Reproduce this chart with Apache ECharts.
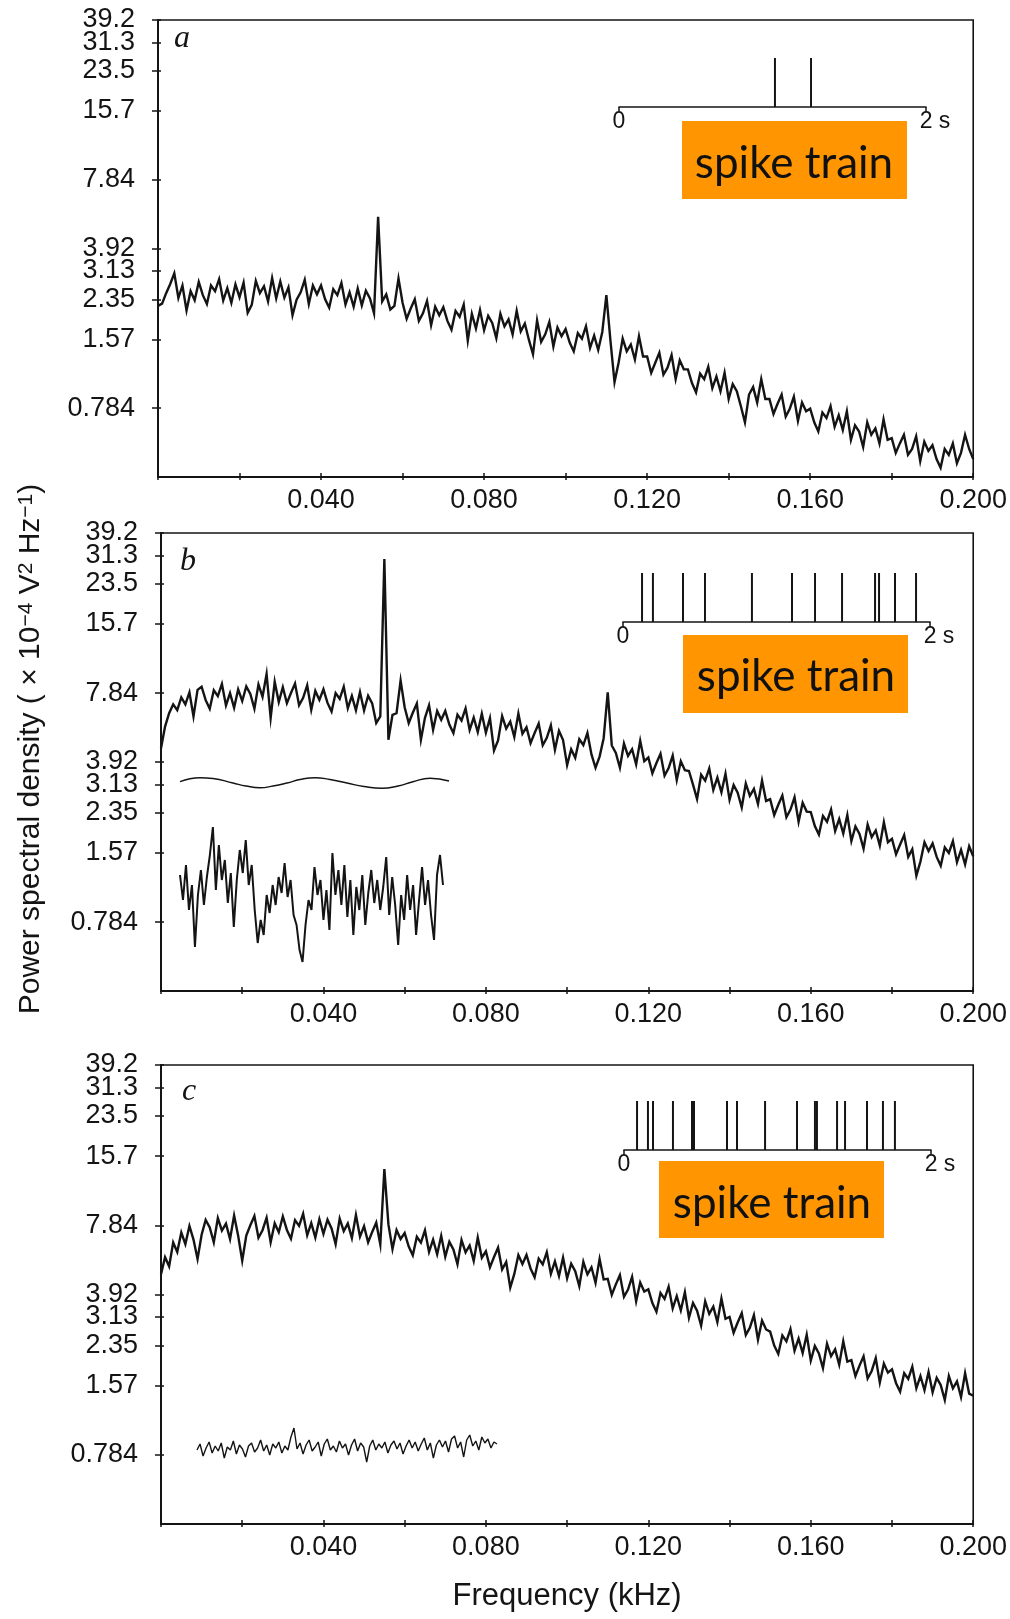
<!DOCTYPE html>
<html><head><meta charset="utf-8">
<script src="https://cdn.jsdelivr.net/npm/echarts@6/dist/echarts.min.js"></script>
<style>html,body{margin:0;padding:0;background:#fff}#chart{width:1010px;height:1619px}</style>
</head><body><div id="chart"></div>
<script>
// ---------- DATA ----------
const FREQ_STEP = 0.001; // kHz between spectral samples
const yTickLabels = ['39.2','31.3','23.5','15.7','7.84','3.92','3.13','2.35','1.57','0.784'];
const xTickLabels = ['0.040','0.080','0.120','0.160','0.200'];
const Y_MIN = 0.392, Y_MAX = 39.2;

const psdA = [
2.2,2.25,2.5,2.74,3.05,2.38,2.7,2.1,2.55,2.33,
2.8,2.45,2.24,2.7,2.55,2.88,2.32,2.63,2.27,2.73,
2.4,2.78,2.05,2.22,2.83,2.5,2.68,2.3,2.91,2.37,
2.81,2.39,2.65,2.0,2.34,2.52,2.86,2.24,2.7,2.47,
2.7,2.35,2.16,2.6,2.45,2.77,2.23,2.52,2.18,2.62,
2.21,2.56,2.37,2.04,5.4,2.3,2.47,2.12,2.2,2.9,
2.27,1.93,2.14,2.35,1.89,2.04,2.31,1.81,2.18,2.0,
2.17,1.89,1.73,2.09,1.97,2.23,1.55,2.03,1.75,2.11,
1.72,1.99,1.85,1.59,2.03,1.79,1.92,1.65,2.09,1.7,
1.84,1.56,1.35,1.9,1.53,1.65,1.87,1.46,1.77,1.62,
1.74,1.52,1.39,1.67,1.58,1.79,1.44,1.63,1.41,1.69,
2.45,1.55,1.02,1.24,1.58,1.39,1.49,1.28,1.62,1.32,
1.32,1.12,1.24,1.37,1.1,1.18,1.34,1.05,1.27,1.16,
1.16,1.01,0.92,1.11,1.05,1.19,0.96,1.08,0.93,1.12,
0.86,1.0,0.93,0.8,0.68,0.9,0.97,0.83,1.05,0.86,
0.86,0.74,0.82,0.9,0.72,0.78,0.88,0.69,0.83,0.76,
0.78,0.68,0.62,0.75,0.71,0.8,0.65,0.73,0.63,0.76,
0.57,0.66,0.62,0.53,0.68,0.6,0.64,0.55,0.7,0.57,
0.58,0.5,0.55,0.6,0.49,0.52,0.59,0.46,0.56,0.51,
0.54,0.47,0.43,0.52,0.49,0.55,0.45,0.5,0.6,0.52,
0.47];

const psdB = [
4.5,5.6,6.4,7.0,6.6,7.5,7.0,7.9,6.2,8.1,
8.36,7.3,6.69,8.06,7.6,8.59,6.92,7.83,6.76,8.13,
7.24,8.39,7.78,6.7,8.55,7.55,9.5,6.1,8.78,7.16,
8.32,7.08,7.85,8.62,6.93,7.47,8.47,6.62,8.01,7.32,
8.14,7.1,6.51,7.84,7.4,8.36,6.73,7.62,6.59,7.92,
6.58,7.63,7.07,5.8,6.2,30.2,4.9,6.3,6.4,8.9,
6.8,5.8,6.43,7.06,4.9,6.11,6.93,5.42,6.55,5.99,
6.55,5.71,5.24,6.31,5.95,6.72,5.41,6.13,5.3,6.37,
5.26,6.1,4.4,4.87,6.22,5.49,5.88,5.04,6.38,5.21,
5.56,4.74,5.25,5.77,4.64,5.0,5.67,4.43,5.36,4.89,
3.8,4.46,4.09,4.93,4.65,5.25,4.23,3.7,4.14,4.98,
7.9,4.63,4.29,3.7,4.72,4.17,4.46,3.83,4.85,3.95,
4.1,3.5,3.88,4.26,3.42,3.69,4.18,3.27,3.95,3.61,
3.58,3.12,2.7,3.45,3.25,3.67,2.96,3.35,2.89,3.48,
2.68,3.11,2.88,2.48,3.16,2.79,2.99,2.57,3.25,2.65,
2.7,2.3,2.55,2.8,2.25,2.43,2.75,2.15,2.6,2.38,
2.37,2.06,1.89,2.28,2.15,2.43,1.96,2.21,1.91,2.3,
1.77,2.05,1.9,1.64,2.09,1.84,1.97,1.69,2.14,1.75,
1.81,1.55,1.71,1.88,1.51,1.63,1.25,1.44,1.75,1.6,
1.73,1.51,1.38,1.66,1.57,1.77,1.43,1.62,1.4,1.68,
1.52];

const psdC = [
4.8,5.7,5.2,6.6,6.0,7.3,6.5,7.8,6.8,5.6,
7.14,8.28,7.68,6.61,8.44,7.45,7.98,6.84,8.66,7.07,
5.5,7.08,7.85,8.62,6.93,7.47,8.47,6.62,8.01,7.32,
8.58,7.49,6.86,8.27,7.8,8.81,7.1,8.03,6.94,8.35,
7.2,8.3,7.6,6.5,8.4,7.4,8.0,6.9,8.7,7.0,
7.78,6.62,7.34,8.06,6.48,13.8,7.92,6.19,7.49,6.84,
7.26,6.34,5.81,7.0,6.6,7.46,6.01,6.8,5.87,7.06,
5.73,6.65,6.16,5.31,6.77,5.98,6.41,5.49,6.95,5.67,
6.05,5.15,5.71,6.27,5.04,5.43,4.2,4.82,5.82,5.32,
5.83,5.09,4.66,5.62,5.3,5.99,4.82,5.46,4.72,5.67,
4.61,5.34,4.95,4.26,5.44,4.8,5.15,4.41,5.59,4.56,
4.59,3.91,4.34,4.76,3.83,4.12,4.68,3.66,4.42,4.04,
4.13,3.6,3.3,3.98,3.75,4.24,3.41,3.86,3.34,4.01,
3.1,3.6,3.33,2.87,3.66,3.23,3.47,2.97,3.76,3.07,
3.13,2.67,2.96,3.25,2.61,2.81,3.19,2.49,3.02,2.76,
2.7,2.35,2.16,2.6,2.45,2.77,2.23,2.52,2.18,2.62,
2.02,2.34,2.17,1.87,2.39,2.11,2.26,1.94,2.45,2.0,
2.03,1.73,1.92,2.11,1.69,1.82,2.07,1.62,1.96,1.79,
1.85,1.61,1.48,1.78,1.68,1.9,1.53,1.73,1.5,1.8,
1.47,1.7,1.58,1.36,1.73,1.53,1.64,1.4,1.78,1.45,
1.42];

// spike times (s) in the 2 s inset trains
const spikesA = [1.016, 1.251];
const spikesB = [0.124,0.195,0.391,0.534,0.840,1.101,1.251,1.427,1.642,1.668,1.772,1.909];
const spikesC = [0.085,0.156,0.189,0.319,0.443,0.456,0.671,0.736,0.919,1.127,1.244,1.257,1.388,1.440,1.583,1.687,1.765];

// inset in panel b: smooth (sinusoidal) trace
const waveBx = [0,20,33,53,66,80,93,107,120,135,150,167,184,202,218,233,250,269];
const waveBy = [1.3,5.3,4.5,0,-3,-4.7,-3,0,3.5,5.3,3.5,0,-3.5,-5.3,-3,1.3,4.7,2];
// inset in panel b: noisy trace
const noiseB = [90,65,100,55,80,18,70,95,60,88,110,138,75,120,85,105,62,92,38,85,
115,92,125,80,100,55,22,45,30,70,52,80,60,88,72,102,68,85,50,40,
15,3,40,65,55,98,70,85,45,75,35,112,70,95,60,100,48,85,30,78,
55,90,40,72,95,62,85,55,78,108,50,88,60,20,70,45,90,55,80,30,
65,98,60,85,50,25,90,110,80];
// inset in panel c: noisy trace
const noiseC = [20,26,14,22,28,17,24,19,27,12,23,20,29,16,25,21,13,24,27,18,
22,30,19,25,15,26,22,28,17,24,20,33,42,21,27,16,25,30,19,23,
28,14,26,31,20,24,18,29,22,26,15,25,31,19,27,23,8,24,30,20,
26,22,28,17,25,29,21,27,16,24,30,22,28,19,26,32,20,27,12,25,
30,23,29,18,31,34,22,28,13,30,35,24,29,20,33,27,31,22,28,26];

// ---------- LAYOUT / STYLE ----------
const INK = '#141414';
const SANS = '"Liberation Sans", Arial, sans-serif';
const panels = [
  {letter:'a', data:psdA, spikes:spikesA,
   grid:{left:158, top:20, width:817, height:457},
   spikeGrid:{left:619, top:58, width:307, height:49},
   box:{x:682, y:121, w:225, h:78}, boxText:[794, 164], letterPos:[182, 39]},
  {letter:'b', data:psdB, spikes:spikesB,
   grid:{left:161, top:533, width:817, height:458},
   spikeGrid:{left:623, top:573, width:307, height:49},
   box:{x:683, y:635, w:225, h:78}, boxText:[796, 677], letterPos:[188, 562]},
  {letter:'c', data:psdC, spikes:spikesC,
   grid:{left:161, top:1065, width:820, height:459},
   spikeGrid:{left:624, top:1101, width:307, height:49},
   box:{x:659, y:1161, w:225, h:77}, boxText:[772, 1204], letterPos:[189, 1092]}
];

const LOGMIN = Math.log10(Y_MIN), LOGMAX = Math.log10(Y_MAX);
const yTickPos = yTickLabels.map(s => Math.log10(parseFloat(s)));
const yTopPos = yTickPos.slice(0, 1);   // top label on its own axis (avoids overlap culling)
const yRestPos = yTickPos.slice(1);
function yLabelFor(v){
  const s = yTickLabels.find(t => Math.abs(Math.log10(parseFloat(t)) - v) < 1e-6);
  return s || '';
}
function xLabelFor(v){
  const s = v.toFixed(3);
  return xTickLabels.includes(s) ? s : '';
}

const grids = [], xAxes = [], yAxes = [], series = [], graphics = [];
const lineStyleAx = {color: INK, width: 2};
const yLabelStyle = {show:true, margin:23, fontSize:27, fontFamily:SANS, color:INK,
  formatter:yLabelFor, hideOverlap:false, showMinLabel:true, showMaxLabel:true};

panels.forEach((p, i) => {
  const gi = grids.length;
  grids.push(Object.assign({show:true, borderColor:INK, borderWidth:1.6, backgroundColor:'transparent'}, p.grid));
  const xi = xAxes.length;
  xAxes.push({type:'value', gridIndex:gi, min:0, max:0.2, interval:0.02, position:'bottom',
    axisLine:{show:true, onZero:false, lineStyle:lineStyleAx},
    axisTick:{show:true, inside:true, length:4, lineStyle:{color:INK, width:1.5}},
    axisLabel:{show:true, margin:10, fontSize:27, fontFamily:SANS, color:INK, formatter:xLabelFor,
      hideOverlap:false, showMinLabel:true, showMaxLabel:true},
    splitLine:{show:false},
    name: i === 2 ? 'Frequency (kHz)' : '', nameLocation:'middle', nameGap:57,
    nameTextStyle:{fontSize:31, fontFamily:SANS, color:INK}});
  xAxes.push({type:'value', gridIndex:gi, min:0, max:0.2, interval:0.02, position:'bottom',
    axisLine:{show:false, onZero:false},
    axisTick:{show:true, inside:false, length:3, lineStyle:{color:INK, width:1.5}},
    axisLabel:{show:false}, splitLine:{show:false}});
  const yi = yAxes.length;
  yAxes.push({type:'log', logBase:10, gridIndex:gi, min:Y_MIN, max:Y_MAX, position:'left',
    axisLine:{show:true, onZero:false, lineStyle:lineStyleAx},
    axisTick:{show:false}, axisLabel:{show:false}, splitLine:{show:false}, minorTick:{show:false}});
  yAxes.push({type:'value', gridIndex:gi, min:LOGMIN, max:LOGMAX + 1e-9, position:'left',
    axisLine:{show:false, onZero:false},
    axisTick:{show:true, inside:false, length:6, customValues:yTickPos, lineStyle:{color:INK, width:1.5}},
    axisLabel:Object.assign({customValues:yRestPos}, yLabelStyle),
    splitLine:{show:false}});
  yAxes.push({type:'value', gridIndex:gi, min:LOGMIN, max:LOGMAX + 1e-9, position:'left',
    axisLine:{show:false, onZero:false},
    axisTick:{show:true, inside:true, length:3, customValues:yTickPos, lineStyle:{color:INK, width:1.5}},
    axisLabel:Object.assign({customValues:yTopPos}, yLabelStyle),
    splitLine:{show:false}});
  series.push({type:'line', xAxisIndex:xi, yAxisIndex:yi,
    data: p.data.map((v, k) => [k * FREQ_STEP, v]),
    symbol:'none', showSymbol:false, silent:true,
    lineStyle:{color:INK, width:2.4, join:'miter'}});

  // spike-train inset
  const sg = grids.length;
  grids.push(Object.assign({show:false}, p.spikeGrid));
  const sx = xAxes.length;
  xAxes.push({type:'value', gridIndex:sg, min:0, max:2, position:'bottom',
    axisLine:{show:true, onZero:false, lineStyle:{color:INK, width:1.6}},
    axisTick:{show:true, length:5, customValues:[0,2], lineStyle:{color:INK, width:1.5}},
    axisLabel:{show:true, customValues:[0,2], margin:3, fontSize:23, fontFamily:SANS, color:INK,
      formatter: v => v === 0 ? '0' : '{r|2 s}', hideOverlap:false,
      rich:{r:{padding:[0,0,0,18], fontSize:23, fontFamily:SANS, color:INK}}},
    splitLine:{show:false}});
  const sy = yAxes.length;
  yAxes.push({type:'value', gridIndex:sg, min:0, max:1, show:false});
  series.push({type:'bar', xAxisIndex:sx, yAxisIndex:sy, data:p.spikes.map(t => [t, 1]),
    barWidth:2, itemStyle:{color:INK}, silent:true});

  // orange label box + panel letter
  graphics.push({type:'rect', shape:{x:p.box.x, y:p.box.y, width:p.box.w, height:p.box.h},
    style:{fill:'#FF9500'}, z:10});
  graphics.push({type:'text', x:p.boxText[0], y:p.boxText[1], z:11,
    style:{text:'spike train', font:'44px Lato, "Open Sans", sans-serif', fill:'#111',
      align:'center', verticalAlign:'middle', textAlign:'center', textVerticalAlign:'middle'}});
  graphics.push({type:'text', x:p.letterPos[0], y:p.letterPos[1], z:11,
    style:{text:p.letter, font:'italic 32px "Liberation Serif", serif', fill:INK,
      align:'center', verticalAlign:'middle', textAlign:'center', textVerticalAlign:'middle'}});
});

// inset traces
function addInset(box, xs, ys, ymin, ymax, smooth, width){
  const g = grids.length;
  grids.push(Object.assign({show:false}, box));
  const xi = xAxes.length;
  xAxes.push({type:'value', gridIndex:g, min:xs[0], max:xs[xs.length-1], show:false});
  const yi = yAxes.length;
  yAxes.push({type:'value', gridIndex:g, min:ymin, max:ymax, show:false});
  series.push({type:'line', xAxisIndex:xi, yAxisIndex:yi, data: ys.map((v, k) => [xs[k], v]),
    symbol:'none', showSymbol:false, smooth:smooth, silent:true, lineStyle:{color:INK, width:width}});
}
addInset({left:180, top:777, width:269, height:12}, waveBx, waveBy, -6, 6, true, 1.4);
addInset({left:180, top:825, width:263, height:140}, noiseB.map((v, k) => k), noiseB, 0, 140, false, 2.0);
addInset({left:197, top:1425, width:300, height:45}, noiseC.map((v, k) => k), noiseC, 0, 45, false, 1.4);

// y-axis title
graphics.push({type:'text', x:31, y:749, rotation:Math.PI/2, z:11,
  style:{text:'Power spectral density ( × 10{s|−4} V{s|2} Hz{s|−1})',
    font:'30px "Liberation Sans", Arial, sans-serif', fill:INK,
    align:'center', verticalAlign:'middle', textAlign:'center', textVerticalAlign:'middle',
    rich:{s:{fontSize:21, fontFamily:SANS, fill:INK, verticalAlign:'top', lineHeight:30}}}});

const chart = echarts.init(document.getElementById('chart'), null, {renderer:'canvas'});
chart.setOption({
  animation:false,
  backgroundColor:'#ffffff',
  grid:grids, xAxis:xAxes, yAxis:yAxes, series:series,
  graphic:{elements:graphics}
});
</script>
</body></html>
